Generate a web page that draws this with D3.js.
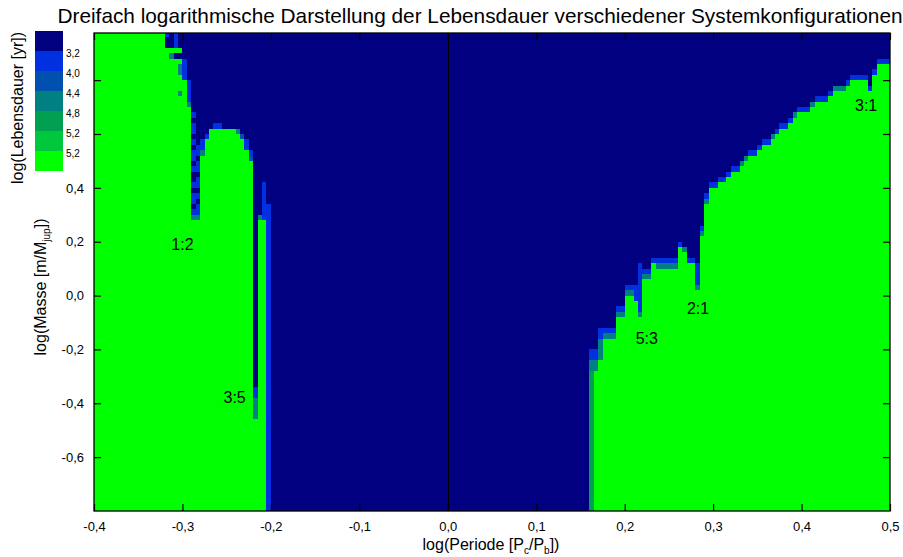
<!DOCTYPE html>
<html>
<head>
<meta charset="utf-8">
<script src="https://cdn.jsdelivr.net/npm/d3@7"></script>
<style>
  body { margin: 0; background: #fff; }
  svg text { font-family: "Liberation Sans", Arial, Helvetica, sans-serif; fill: #000; }
</style>
</head>
<body>
<svg id="chart" width="903" height="557"></svg>
<script>
// Simulation grid: log10 period ratio (columns) x log10 planet mass (rows)
const periodStart = -0.4, periodStep = 0.005, periodCount = 180;
const massStart = -0.8, massStep = 0.02, massCount = 89;

// Lifetime classes, shortest first
const levelColors = ["#000080", "#0030e0", "#0050b0", "#008080", "#00a050", "#00c83c", "#00ff00"];
const legendLabels = ["3,2", "4,0", "4,4", "4,8", "5,2", "5,2"];

// Column runs: [first column, last column, top row, classes from the top row downward, class below that]
// Columns not listed stay in class 0 over the whole mass range.
const columnRuns = [
  [0, 15, 88, "", 6],
  [16, 16, 88, "100", 6],
  [17, 17, 85, "63", 6],
  [18, 18, 88, "11160", 6],
  [19, 19, 85, "606336663", 6],
  [20, 20, 83, "1111", 6],
  [21, 21, 79, "11113", 6],
  [22, 22, 73, "10110101101001011013", 6],
  [23, 23, 67, "11011011010113", 6],
  [24, 24, 68, "113", 6],
  [25, 25, 69, "1", 6],
  [26, 26, 70, "", 6],
  [27, 28, 71, "1", 6],
  [29, 31, 70, "", 6],
  [32, 32, 70, "3", 6],
  [33, 33, 69, "2", 6],
  [34, 34, 68, "11", 6],
  [35, 35, 66, "12", 6],
  [36, 36, 22, "113333", 6],
  [37, 37, 54, "3", 6],
  [38, 38, 60, "1111111", 6],
  [39, 39, 56, "", 1],
  [112, 112, 29, "1133", 4],
  [113, 113, 29, "1133", 6],
  [114, 114, 33, "113333", 6],
  [115, 117, 33, "13", 6],
  [118, 119, 37, "13", 6],
  [120, 121, 41, "13", 6],
  [122, 122, 41, "111", 6],
  [123, 123, 45, "1111111113", 6],
  [124, 125, 44, "13", 6],
  [126, 126, 46, "1", 6],
  [127, 131, 46, "13", 6],
  [132, 132, 49, "1", 6],
  [133, 133, 48, "3", 6],
  [134, 135, 46, "1", 6],
  [136, 136, 45, "11113", 6],
  [137, 137, 52, "13", 6],
  [138, 138, 58, "13", 6],
  [139, 140, 60, "1", 6],
  [141, 142, 61, "1", 6],
  [143, 143, 62, "1", 6],
  [144, 145, 63, "1", 6],
  [146, 146, 64, "3", 6],
  [147, 147, 65, "3", 6],
  [148, 149, 66, "1", 6],
  [150, 150, 67, "1", 6],
  [151, 152, 68, "1", 6],
  [153, 153, 69, "3", 6],
  [154, 154, 70, "1", 6],
  [155, 156, 71, "1", 6],
  [157, 157, 72, "1", 6],
  [158, 158, 73, "3", 6],
  [159, 161, 74, "1", 6],
  [162, 162, 75, "3", 6],
  [163, 165, 76, "1", 6],
  [166, 166, 77, "1", 6],
  [167, 169, 78, "3", 6],
  [170, 170, 79, "1", 6],
  [171, 174, 80, "1", 6],
  [175, 175, 78, "1", 6],
  [176, 176, 81, "1", 6],
  [177, 179, 83, "1", 6]
];

// Mean-motion resonances marked in the plane
const resonanceLabels = ["1:2", "3:5", "5:3", "2:1", "3:1"];
const resonancePeriod = [-0.30, -0.241, 0.225, 0.283, 0.473];
const resonanceMass = [0.19, -0.38, -0.161, -0.049, 0.704];

const xTicks = [-0.4, -0.3, -0.2, -0.1, 0.0, 0.1, 0.2, 0.3, 0.4, 0.5];
const yTicks = [-0.6, -0.4, -0.2, 0.0, 0.2, 0.4, 0.6, 0.8];
// the upper two mass ticks sit behind the colour key and carry no label
const yLabelled = [-0.6, -0.4, -0.2, 0.0, 0.2, 0.4];

const titleText = "Dreifach logarithmische Darstellung der Lebensdauer verschiedener Systemkonfigurationen";

// ---- layout ----
const svg = d3.select("#chart");
const plot = { left: 94, right: 890, top: 33, bottom: 511 };

const x = d3.scaleLinear().domain([periodStart, periodStart + periodStep * periodCount]).range([plot.left, plot.right]);
const y = d3.scaleLinear().domain([massStart, 0.975]).range([plot.bottom, plot.top]);

const de = d3.formatLocale({ decimal: ",", thousands: ".", grouping: [3], currency: ["", " €"], minus: "-" });
const fmt = de.format(".1f");

svg.append("defs").append("clipPath").attr("id", "plotClip")
  .append("rect")
  .attr("x", plot.left).attr("y", plot.top)
  .attr("width", plot.right - plot.left).attr("height", plot.bottom - plot.top);

const field = svg.append("g").attr("clip-path", "url(#plotClip)");

// short-lived background
field.append("rect")
  .attr("x", plot.left).attr("y", plot.top)
  .attr("width", plot.right - plot.left).attr("height", plot.bottom - plot.top)
  .attr("fill", levelColors[0]);

// expand the runs into vertical blocks of equal class
const blocks = [];
columnRuns.forEach(([c0, c1, top, edge, base]) => {
  for (let c = c0; c <= c1; c++) {
    let cur = null;
    for (let r = top; r >= 0; r--) {
      const k = top - r;
      const lv = k < edge.length ? +edge[k] : base;
      if (cur && cur.level === lv) { cur.rowLo = r; }
      else {
        if (cur) blocks.push(cur);
        cur = { col: c, rowHi: r, rowLo: r, level: lv };
      }
    }
    if (cur) blocks.push(cur);
  }
});

const px = c => Math.round(x(periodStart + c * periodStep));
const py = r => Math.round(y(massStart + r * massStep));

field.selectAll("rect.cell")
  .data(blocks.filter(b => b.level > 0))
  .join("rect")
  .attr("class", "cell")
  .attr("shape-rendering", "crispEdges")
  .attr("x", d => px(d.col))
  .attr("width", d => px(d.col + 1) - px(d.col))
  .attr("y", d => py(d.rowHi + 1))
  .attr("height", d => py(d.rowLo) - py(d.rowHi + 1))
  .attr("fill", d => levelColors[d.level]);

// equal-period line
field.append("line")
  .attr("x1", Math.round(x(0)) + 0.5).attr("x2", Math.round(x(0)) + 0.5)
  .attr("y1", plot.top).attr("y2", plot.bottom)
  .attr("stroke", "#000").attr("stroke-width", 1);

// resonance labels
svg.append("g").selectAll("text")
  .data(resonanceLabels)
  .join("text")
  .attr("x", (d, i) => x(resonancePeriod[i]))
  .attr("y", (d, i) => y(resonanceMass[i]))
  .attr("text-anchor", "middle")
  .attr("dominant-baseline", "central")
  .attr("font-size", 16)
  .text(d => d);

// ---- axes ----
const tickLen = 7;
const xAxisB = svg.append("g").attr("transform", `translate(0,${plot.bottom})`)
  .call(d3.axisBottom(x).tickValues(xTicks).tickFormat(fmt).tickSizeInner(-tickLen).tickSizeOuter(0).tickPadding(11));
const xAxisT = svg.append("g").attr("transform", `translate(0,${plot.top})`)
  .call(d3.axisTop(x).tickValues(xTicks).tickFormat("").tickSizeInner(-tickLen).tickSizeOuter(0));
const yAxisL = svg.append("g").attr("transform", `translate(${plot.left},0)`)
  .call(d3.axisLeft(y).tickValues(yTicks)
    .tickFormat(v => yLabelled.some(t => Math.abs(t - v) < 1e-9) ? fmt(v) : "")
    .tickSizeInner(-tickLen).tickSizeOuter(0).tickPadding(10));
const yAxisR = svg.append("g").attr("transform", `translate(${plot.right},0)`)
  .call(d3.axisRight(y).tickValues(yTicks).tickFormat("").tickSizeInner(-tickLen).tickSizeOuter(0));

[xAxisB, xAxisT, yAxisL, yAxisR].forEach(g => {
  g.select(".domain").remove();
  g.selectAll(".tick line").attr("stroke", "#000").attr("stroke-width", 1.2);
  g.selectAll("text").attr("font-size", 13).attr("font-family", null).attr("fill", "#000");
  g.selectAll(".tick text").filter(function () { return this.textContent === ""; }).remove();
});

svg.append("rect")
  .attr("x", plot.left).attr("y", plot.top)
  .attr("width", plot.right - plot.left).attr("height", plot.bottom - plot.top)
  .attr("fill", "none").attr("stroke", "#000").attr("stroke-width", 1.3);

// ---- colour legend ----
const legend = svg.append("g");
const boxH = 20, boxTop = 31, boxLeft = 35, boxW = 28;
legend.selectAll("rect.key")
  .data(levelColors)
  .join("rect")
  .attr("class", "key")
  .attr("x", boxLeft).attr("y", (d, i) => boxTop + i * boxH)
  .attr("width", boxW).attr("height", boxH)
  .attr("fill", d => d);
legend.selectAll("text")
  .data(legendLabels)
  .join("text")
  .attr("x", boxLeft + boxW + 3)
  .attr("y", (d, i) => boxTop + (i + 1) * boxH + 2)
  .attr("dominant-baseline", "central")
  .attr("font-size", 10)
  .text(d => d);

// ---- titles ----
svg.append("text")
  .attr("x", 480).attr("y", 23)
  .attr("text-anchor", "middle")
  .attr("font-size", 20.8)
  .text(titleText);

const xTitle = svg.append("text")
  .attr("x", 491).attr("y", 550)
  .attr("text-anchor", "middle")
  .attr("font-size", 16);
xTitle.append("tspan").text("log(Periode [P");
xTitle.append("tspan").attr("font-size", 10).attr("dy", 4).text("c");
xTitle.append("tspan").attr("dy", -4).text("/P");
xTitle.append("tspan").attr("font-size", 10).attr("dy", 4).text("b");
xTitle.append("tspan").attr("dy", -4).text("])");

const yTitle = svg.append("text")
  .attr("transform", "translate(46,287) rotate(-90)")
  .attr("text-anchor", "middle")
  .attr("font-size", 16);
yTitle.append("tspan").text("log(Masse [m/M");
yTitle.append("tspan").attr("font-size", 10).attr("dy", 4).text("jup");
yTitle.append("tspan").attr("dy", -4).text("])");

svg.append("text")
  .attr("transform", "translate(23,108) rotate(-90)")
  .attr("text-anchor", "middle")
  .attr("font-size", 16)
  .text("log(Lebensdauer [yr])");
</script>
</body>
</html>
